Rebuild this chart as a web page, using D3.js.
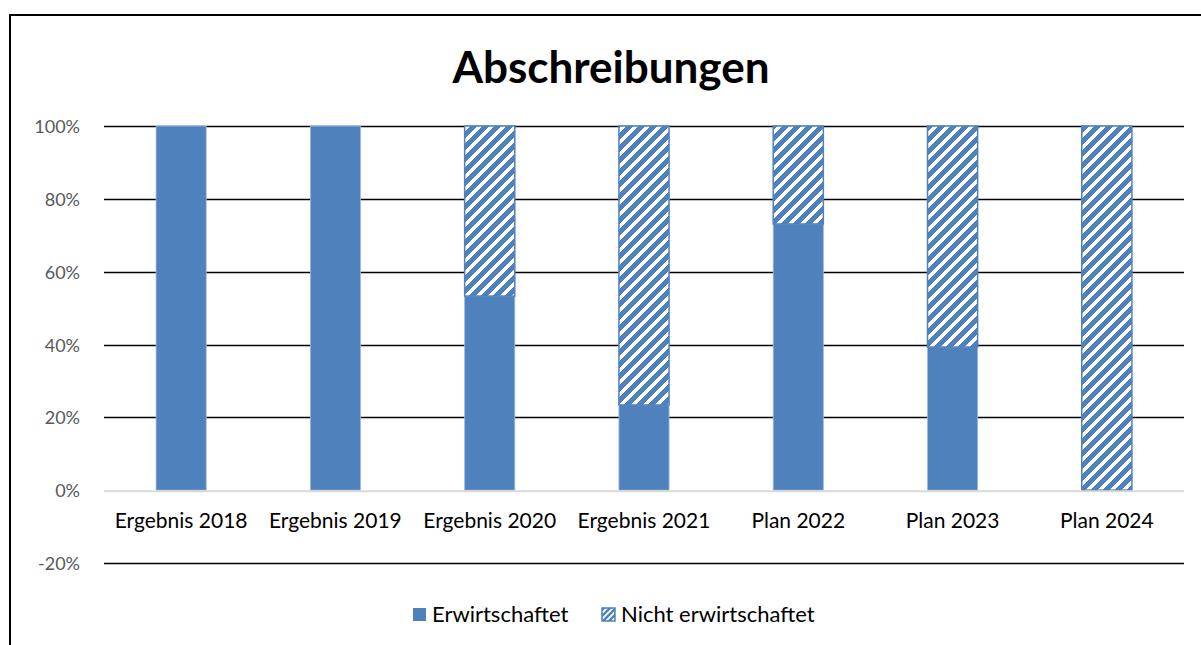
<!DOCTYPE html>
<html>
<head>
<meta charset="utf-8">
<script src="https://cdn.jsdelivr.net/npm/d3@7"></script>
<style>
  body { margin: 0; background: #fff; }
  text { font-family: Lato, "Open Sans", sans-serif; }
</style>
</head>
<body>
<script>
// data
var categories = ['Ergebnis 2018', 'Ergebnis 2019', 'Ergebnis 2020', 'Ergebnis 2021', 'Plan 2022', 'Plan 2023', 'Plan 2024']
var erwirtschaftet = [100, 100, 53.3, 23.4, 73.1, 39.3, 0]
var nichtErwirtschaftet = [0, 0, 46.7, 76.6, 26.9, 60.7, 100]
var yTicks = [-20, 0, 20, 40, 60, 80, 100]
var seriesNames = ['Erwirtschaftet', 'Nicht erwirtschaftet']

var W = 1201, H = 645
var blue = '#4f81bd'

var svg = d3.select('body').append('svg')
	.attr('width', W)
	.attr('height', H)

// hatch pattern
var defs = svg.append('defs')
var pat = defs.append('pattern')
	.attr('id', 'hatch')
	.attr('patternUnits', 'userSpaceOnUse')
	.attr('width', 12)
	.attr('height', 12)
pat.append('rect').attr('width', 12).attr('height', 12).attr('fill', '#fff')
pat.append('path')
	.attr('d', 'M-3,3 L3,-3 M0,12 L12,0 M9,15 L15,9')
	.attr('stroke', blue)
	.attr('stroke-width', 4.8)
	.attr('shape-rendering', 'crispEdges')

// small hatch for the legend icon
var pat2 = defs.append('pattern')
	.attr('id', 'hatchSmall')
	.attr('patternUnits', 'userSpaceOnUse')
	.attr('width', 6)
	.attr('height', 6)
pat2.append('rect').attr('width', 6).attr('height', 6).attr('fill', '#fff')
pat2.append('path')
	.attr('d', 'M-1.5,1.5 L1.5,-1.5 M0,6 L6,0 M4.5,7.5 L7.5,4.5')
	.attr('stroke', blue)
	.attr('stroke-width', 2.4)

// outer frame
svg.append('rect')
	.attr('x', 10).attr('y', 15)
	.attr('width', W + 20).attr('height', H + 20)
	.attr('fill', 'none')
	.attr('stroke', '#000')
	.attr('stroke-width', 2)

// title
svg.append('text')
	.attr('x', 611).attr('y', 83)
	.attr('text-anchor', 'middle')
	.style('font-size', '44px')
	.style('font-weight', 'bold')
	.text('Abschreibungen')

var x = d3.scaleBand().domain(categories).range([104, 1184]).paddingInner(0.675).paddingOuter(0.3375)
var y = d3.scaleLinear().domain([-20, 100]).range([563, 126])

// grid lines
svg.append('g').selectAll('line')
	.data(yTicks.filter(d => d !== 0))
	.join('line')
	.attr('x1', 104).attr('x2', 1184)
	.attr('y1', d => Math.round(y(d)) + 0.5).attr('y2', d => Math.round(y(d)) + 0.5)
	.attr('stroke', '#000')
	.attr('stroke-width', 1.6)

// y labels
svg.append('g').selectAll('text')
	.data(yTicks)
	.join('text')
	.attr('x', 80)
	.attr('y', d => y(d) + 7)
	.attr('text-anchor', 'end')
	.attr('fill', '#595959')
	.style('font-size', '18px')
	.text(d => d + '%')

// stacked bars
var stack = categories.map((c, i) => ({ c: c, a: erwirtschaftet[i], b: nichtErwirtschaftet[i] }))
var bars = svg.append('g')
bars.selectAll('rect.a')
	.data(stack)
	.join('rect')
	.attr('class', 'a')
	.attr('x', d => x(d.c))
	.attr('width', x.bandwidth())
	.attr('y', d => y(d.a))
	.attr('height', d => y(0) - y(d.a))
	.attr('fill', blue)
	.attr('stroke', '#9bbbe0')
	.attr('stroke-width', d => d.a > 0 ? 0.8 : 0)
bars.selectAll('rect.b')
	.data(stack.filter(d => d.b > 0))
	.join('rect')
	.attr('class', 'b')
	.attr('x', d => x(d.c))
	.attr('width', x.bandwidth())
	.attr('y', d => y(d.a + d.b))
	.attr('height', d => y(d.a) - y(d.a + d.b))
	.attr('fill', 'url(#hatch)')
	.attr('stroke', blue)
	.attr('stroke-width', 1.5)

// zero axis line
svg.append('line')
	.attr('x1', 104).attr('x2', 1184)
	.attr('y1', y(0) + 1).attr('y2', y(0) + 1)
	.attr('stroke', '#d9d9d9')
	.attr('stroke-width', 2)

// x labels
svg.append('g').selectAll('text')
	.data(categories)
	.join('text')
	.attr('x', d => x(d) + x.bandwidth() / 2)
	.attr('y', 528)
	.attr('text-anchor', 'middle')
	.attr('fill', '#000')
	.style('font-size', '21px')
	.text(d => d)

// legend
var legend = svg.append('g')
var legX = [413, 602]
seriesNames.forEach((n, i) => {
	legend.append('rect')
		.attr('x', legX[i]).attr('y', 608)
		.attr('width', 13).attr('height', 13)
		.attr('fill', i === 0 ? blue : 'url(#hatchSmall)')
		.attr('stroke', i === 0 ? 'none' : blue)
		.attr('stroke-width', 1.5)
	legend.append('text')
		.attr('x', legX[i] + 19).attr('y', 622)
		.style('font-size', '22px')
		.text(n)
})
</script>
</body>
</html>
